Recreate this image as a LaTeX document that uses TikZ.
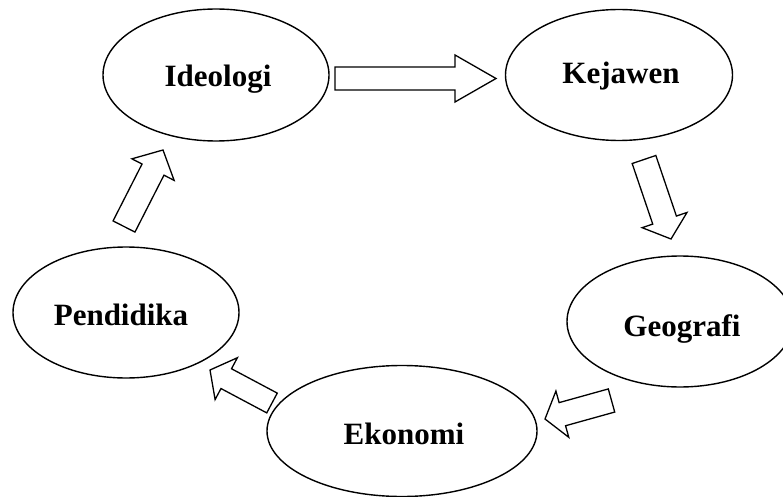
\documentclass[tikz,border=0pt]{standalone}
\usepackage{fontspec}
\setmainfont{Liberation Serif}
\usetikzlibrary{shapes.geometric,calc}
\tikzset{
  oval/.style={draw=black, line width=1.4pt, ellipse, inner sep=0pt},
  lbl/.style={anchor=base, inner sep=0pt, font=\fontsize{31}{36}\selectfont\bfseries},
  arr/.style={draw=black, line width=1.3pt, fill=white, line join=miter}
}
\newcommand{\blockarr}[5]{%
  \coordinate (hb) at ($(#2)!#5pt!(#1)$);
  \draw[arr] ($(#1)!#3pt!90:(#2)$) -- ($(hb)!#3pt!90:(#2)$) -- ($(hb)!#4pt!90:(#2)$)
    -- (#2) -- ($(hb)!#4pt!-90:(#2)$) -- ($(hb)!#3pt!-90:(#2)$) -- ($(#1)!#3pt!-90:(#2)$) -- cycle;
}
\begin{document}
\begin{tikzpicture}[x=1pt,y=-1pt]
\useasboundingbox (0,0) rectangle (783,497);
\node[oval, minimum width=226pt, minimum height=132pt] (ideo) at (216,75) {};
\node[oval, minimum width=227pt, minimum height=131pt] (keja) at (619,75) {};
\node[oval, minimum width=226pt, minimum height=131pt] (geo) at (680,321.5) {};
\node[oval, minimum width=270pt, minimum height=131pt] (eko) at (402,431) {};
\node[oval, minimum width=226pt, minimum height=131pt] (pend) at (126,312.5) {};
\node[lbl] (ideoT) at (218,86.5) {Ideologi};
\node[lbl] (kejaT) at (621,83.5) {Kejawen};
\node[lbl] (geoT) at (682,336) {Geografi};
\node[lbl] (ekoT) at (404,444) {Ekonomi};
\node[lbl] (pendT) at (121,325) {Pendidika};
% arrows
\coordinate (a1t) at (335,78.5); \coordinate (a1h) at (496,78.5);
\coordinate (a2t) at (644,159.5); \coordinate (a2h) at (671,239);
\coordinate (a3t) at (611.5,400.5); \coordinate (a3h) at (545,419);
\coordinate (a4t) at (272,403); \coordinate (a4h) at (210,370);
\coordinate (a5t) at (124,226.5); \coordinate (a5h) at (163,150);
\blockarr{a1t}{a1h}{11.5}{23.5}{41}
\blockarr{a2t}{a2h}{12.5}{23.7}{20}
\blockarr{a3t}{a3h}{12}{24}{18}
\blockarr{a4t}{a4h}{11.2}{23.7}{18.4}
\blockarr{a5t}{a5h}{12.3}{23.7}{22}
\end{tikzpicture}
\end{document}
